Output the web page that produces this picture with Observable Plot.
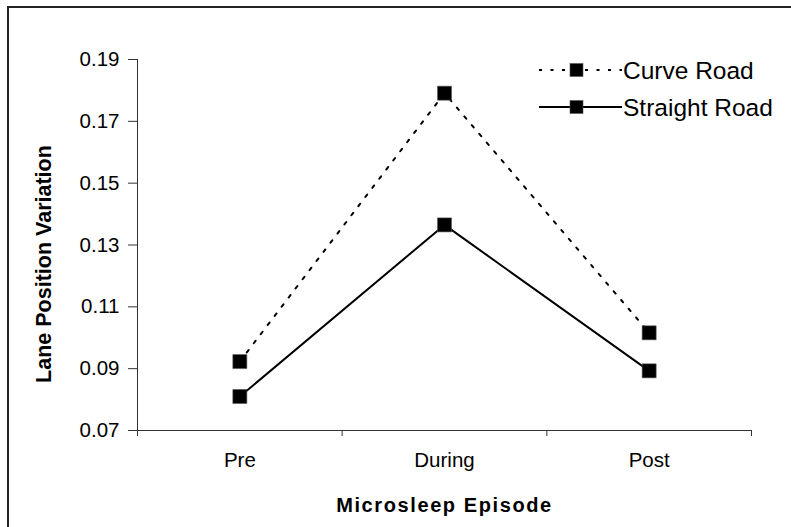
<!DOCTYPE html>
<html>
<head>
<meta charset="utf-8">
<script src="https://cdn.jsdelivr.net/npm/d3@7"></script>
<script src="https://cdn.jsdelivr.net/npm/@observablehq/plot@0.6"></script>
<style>
  html, body { margin: 0; padding: 0; background: #fff; }
  #wrap { position: relative; width: 791px; height: 527px; overflow: hidden; }
  #frame { position: absolute; left: 7px; top: 6px; width: 900px; height: 700px;
           border-left: 2px solid #222; border-top: 2px solid #222; pointer-events: none; }
  #chart { position: absolute; left: 0; top: 0; }
</style>
</head>
<body>
<div id="wrap"><div id="chart"></div><div id="frame"></div></div>
<script>
const categories = ["Pre", "During", "Post"];
const seriesNames = ["Curve Road", "Straight Road"];
const curveRoad = [0.0923, 0.1791, 0.1016];
const straightRoad = [0.0810, 0.1365, 0.0893];
const yTicks = [0.07, 0.09, 0.11, 0.13, 0.15, 0.17, 0.19];
const xTitle = "Microsleep Episode";
const yTitle = "Lane Position Variation";

const data = [];
categories.forEach((c, i) => {
  data.push({episode: c, series: seriesNames[0], value: curveRoad[i]});
  data.push({episode: c, series: seriesNames[1], value: straightRoad[i]});
});
const xPos = d => categories.indexOf(d.episode) + 0.5;
const boundaries = d3.range(categories.length + 1);
const font = "'Liberation Sans', Arial, sans-serif";
const axisColor = "#333";

const chart = Plot.plot({
  width: 791,
  height: 527,
  marginLeft: 137,
  marginRight: 40,
  marginTop: 59,
  marginBottom: 97,
  style: {fontFamily: font, fontSize: "20.5px", color: "#000", background: "transparent"},
  x: {type: "linear", domain: [0, categories.length], axis: null},
  y: {domain: [0.07, 0.19], axis: null},
  marks: [
    Plot.ruleX([0], {stroke: axisColor, strokeWidth: 1}),
    Plot.ruleY([0.07], {stroke: axisColor, strokeWidth: 1}),
    Plot.axisY({ticks: yTicks, tickFormat: d3.format(".2f"), tickSize: 9, tickPadding: 9,
                stroke: axisColor, fontSize: 20.5, label: null}),
    Plot.axisX({ticks: boundaries, tickFormat: () => "", tickSize: 6, stroke: axisColor, label: null}),
    Plot.axisX({ticks: categories.map((c, i) => i + 0.5), tickFormat: v => categories[Math.floor(v)],
                tickSize: 0, tickPadding: 22, fontSize: 20.5, label: null}),
    Plot.line(data.filter(d => d.series === seriesNames[0]),
      {x: xPos, y: "value", stroke: "#000", strokeWidth: 2, strokeDasharray: "3,8.5"}),
    Plot.line(data.filter(d => d.series === seriesNames[1]),
      {x: xPos, y: "value", stroke: "#000", strokeWidth: 2}),
    Plot.dot(data, {x: xPos, y: "value", symbol: "square", r: 7.9, fill: "#000", stroke: "#555", strokeWidth: 0.6}),
    Plot.text([xTitle], {frameAnchor: "bottom", lineAnchor: "bottom", textAnchor: "middle", dy: 81,
      fontWeight: "bold", fontSize: 20, fill: "#000"}),
    Plot.text([yTitle], {frameAnchor: "left", lineAnchor: "bottom", textAnchor: "middle", rotate: -90,
      dx: -87, dy: 19, fontWeight: "bold", fontSize: 21.5, fill: "#000"})
  ]
});
document.getElementById("chart").appendChild(chart);

const svg = d3.select(chart);
svg.selectAll("text").filter(function() { return this.textContent === xTitle; })
  .style("letter-spacing", "1.6px");

// legend
const lg = svg.append("g").attr("font-family", font).attr("font-size", 24.5).attr("text-anchor", "start");
const legendItems = [
  {name: seriesNames[0], dash: "3,8.5", y: 70},
  {name: seriesNames[1], dash: null, y: 107}
];
legendItems.forEach(it => {
  lg.append("line").attr("x1", 539).attr("x2", 622).attr("y1", it.y).attr("y2", it.y)
    .attr("stroke", "#000").attr("stroke-width", 2).attr("stroke-dasharray", it.dash);
  lg.append("rect").attr("x", 570).attr("y", it.y - 6.5).attr("width", 13).attr("height", 13)
    .attr("fill", "#000").attr("stroke", "#555").attr("stroke-width", 0.6);
  lg.append("text").attr("x", 623).attr("y", it.y + 8.5).attr("fill", "#000").attr("text-anchor", "start").text(it.name);
});
</script>
</body>
</html>
